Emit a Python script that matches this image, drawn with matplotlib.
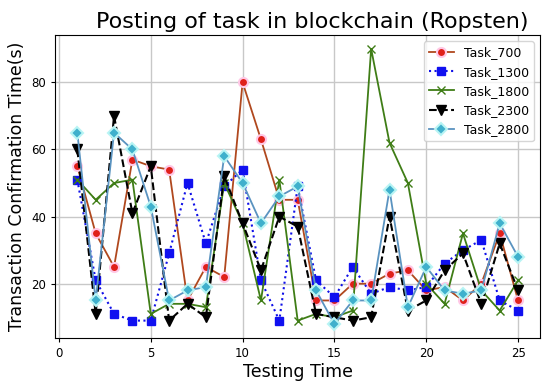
import numpy as np
import matplotlib
matplotlib.use("Agg")
import matplotlib.pyplot as plt

testing_time = list(range(1, 26))

task_700 = [55, 35, 25, 57, 55, 54, 15, 25, 22, 80, 63, 45, 45, 15, 15,
            20, 20, 23, 24, 18, 19, 15, 20, 35, 15]
task_1300 = [51, 21, 11, 9, 9, 29, 50, 32, 49, 54, 21, 9, 49, 21, 16,
             25, 17, 19, 18, 19, 26, 30, 33, 15, 12]
task_1800 = [51, 45, 50, 51, 11, 14, 14, 13, 50, 38, 15, 51, 9, 11, 10,
             12, 90, 62, 50, 20, 14, 35, 18, 12, 21]
task_2300 = [60, 11, 70, 41, 55, 9, 14, 10, 52, 38, 24, 40, 37, 11, 10,
             9, 10, 40, 12, 15, 24, 29, 14, 32, 18]
task_2800 = [65, 15, 65, 60, 43, 15, 18, 19, 58, 50, 38, 46, 49, 18, 8,
             15, 15, 48, 13, 25, 18, 17, 18, 38, 28]

fig = plt.figure(figsize=(5.5, 3.81), dpi=100)
ax = fig.add_axes([0.1005, 0.1136, 0.8815, 0.7944])

ax.plot(testing_time, task_700, color="#b0481e", marker="o", markersize=6.5,
        markerfacecolor="#e0201a", markeredgecolor="#ffc8e6", markeredgewidth=1.5,
        linewidth=1.3, label="Task_700")
ax.plot(testing_time, task_1300, color="#1010e8", linestyle=":", marker="s", markersize=6,
        markerfacecolor="#1010f0", markeredgecolor="#1010f0", linewidth=1.5,
        label="Task_1300")
ax.plot(testing_time, task_1800, color="#3f7d16", marker="x", markersize=6,
        markeredgecolor="#3f7d16", linewidth=1.3, label="Task_1800")
ax.plot(testing_time, task_2300, color="black", linestyle="--", marker="v", markersize=6.5,
        linewidth=1.5, label="Task_2300")
ax.plot(testing_time, task_2800, color="#5a93c0", marker="D", markersize=6.5,
        markerfacecolor="#3fb0cc", markeredgecolor="#b8f4f4", markeredgewidth=1.5,
        linewidth=1.3, label="Task_2800")

ax.set_title("Posting of task in blockchain (Ropsten)", fontsize=16, pad=5, x=0.53)
ax.set_xlabel("Testing Time", fontsize=12.5, labelpad=2)
ax.set_ylabel("Transaction Confirmation Time(s)", fontsize=12.5, labelpad=4)
ax.set_xticks([0, 5, 10, 15, 20, 25])
ax.set_yticks([20, 40, 60, 80])
ax.tick_params(labelsize=8.5, length=3)
ax.grid(True, color="#c8c8c8", linewidth=1)
ax.legend(loc="upper right", fontsize=9)

fig.savefig("out.png", dpi=100)
